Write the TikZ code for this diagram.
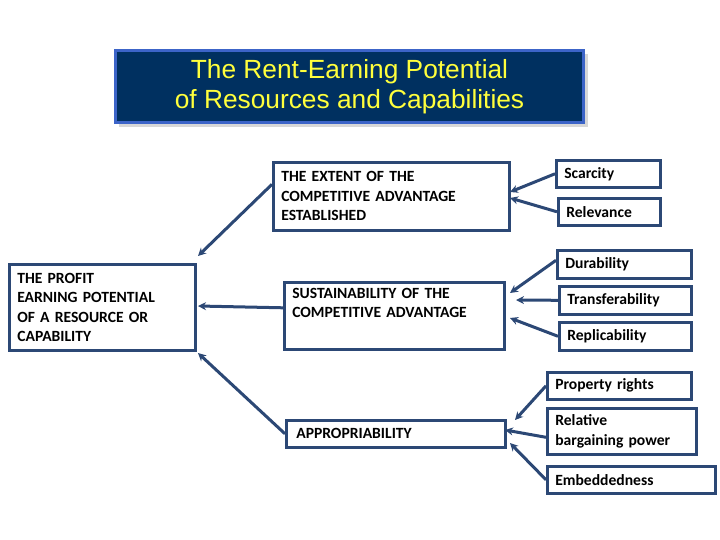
\documentclass[tikz,border=0pt]{standalone}
\usepackage{fontspec}
\setmainfont{Carlito}
\newfontfamily\titlefont{Liberation Sans}
\usetikzlibrary{arrows.meta}
\definecolor{navy}{RGB}{0,48,96}
\definecolor{titleborder}{RGB}{60,100,200}
\definecolor{ttext}{RGB}{255,255,60}
\definecolor{bcol}{RGB}{44,72,117}
\definecolor{shadow}{RGB}{215,215,215}
\tikzset{
  box/.style={draw=bcol, line width=2.6pt, inner xsep=8pt, inner ysep=2pt, align=left,
    anchor=north west, font=\fontsize{15.6}{19.5}\selectfont\bfseries, text=black},
  arr/.style={draw=bcol, line width=3pt, -{Stealth[length=8pt,width=8pt]}},
}
\begin{document}
\begin{tikzpicture}[x=1pt,y=-1pt]
\useasboundingbox (0,0) rectangle (720,540);
% title
\fill[shadow] (119,54) rectangle (588,127);
\node[draw=titleborder, fill=navy, line width=3pt, anchor=north west,
  minimum width=468pt, minimum height=72pt, inner sep=0pt, align=center,
  font=\titlefont\fontsize{26.3}{30}\selectfont, text=ttext] (title) at (114,49)
  {\raisebox{-2pt}{The Rent-Earning Potential}\\\raisebox{-2pt}{of Resources and Capabilities}};
% main boxes
\node[box, text width=220pt, minimum height=68pt] (ext) at (272,161)
  {THE EXTENT OF THE\\COMPETITIVE ADVANTAGE\\ESTABLISHED};
\node[box, text width=204pt, minimum height=67pt] (sus) at (283,281)
  {SUSTAINABILITY OF THE\\COMPETITIVE ADVANTAGE\\\strut};
\node[box, text width=199pt, inner xsep=10pt, minimum height=27pt] (app) at (285,419)
  {APPROPRIABILITY};
\node[box, text width=170pt, minimum height=86pt] (prof) at (8,263)
  {THE PROFIT\\EARNING POTENTIAL\\OF A RESOURCE OR\\CAPABILITY};
% small boxes
\node[box, text width=88pt, minimum height=27pt] (scar) at (555,159) {Scarcity};
\node[box, text width=86pt, minimum height=27pt] (rel) at (557,197) {Relevance};
\node[box, text width=118pt, minimum height=28pt] (dur) at (556,249) {Durability};
\node[box, text width=116pt, minimum height=28pt] (tra) at (558,285) {Transferability};
\node[box, text width=116pt, minimum height=28pt] (rep) at (558,321) {Replicability};
\node[box, text width=128pt, minimum height=27pt] (prop) at (546,371) {Property rights};
\node[box, text width=133pt, minimum height=46pt] (relb) at (546,407) {Relative\\bargaining power};
\node[box, text width=152pt, minimum height=27pt] (emb) at (546,465) {Embeddedness};
% arrow tips
\coordinate (t1) at (198,256);
\coordinate (t2) at (198,306);
\coordinate (t3) at (198,353);
\coordinate (t4) at (510,192);
\coordinate (t5) at (510,198);
\coordinate (t6) at (510,293);
\coordinate (t7) at (516,300);
\coordinate (t8) at (510,318);
\coordinate (t9) at (515,420);
\coordinate (t10) at (505,430);
\coordinate (t11) at (510,443);
% arrows
\draw[arr] ([yshift=12pt]ext.west) -- (t1);
\draw[arr] ([yshift=8pt]sus.west) -- (t2);
\draw[arr] (app.west) -- (t3);
\draw[arr] (scar.west) -- (t4);
\draw[arr] (rel.west) -- (t5);
\draw[arr] ([yshift=4pt]dur.west) -- (t6);
\draw[arr] (tra.west) -- (t7);
\draw[arr] (rep.west) -- (t8);
\draw[arr] (prop.west) -- (t9);
\draw[arr] ([yshift=-6pt]relb.west) -- (t10);
\draw[arr] (emb.west) -- (t11);
\end{tikzpicture}
\end{document}
